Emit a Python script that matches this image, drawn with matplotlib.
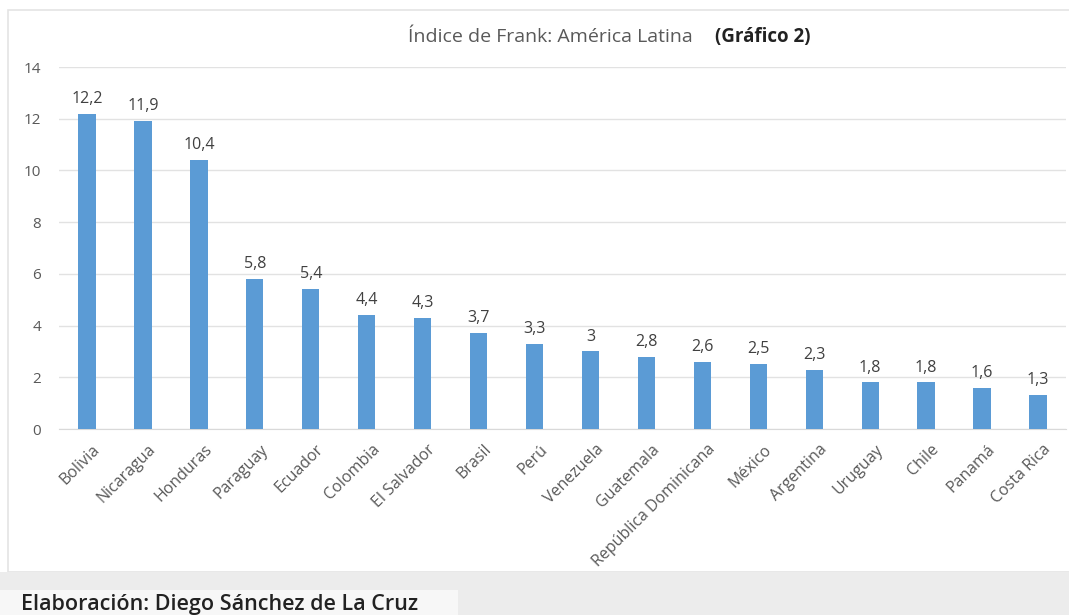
import matplotlib.pyplot as plt
from matplotlib.patches import Rectangle
from matplotlib.transforms import ScaledTranslation
import numpy as np

plt.rcParams['font.family'] = ['Open Sans', 'DejaVu Sans']

paises = ["Bolivia", "Nicaragua", "Honduras", "Paraguay", "Ecuador", "Colombia",
          "El Salvador", "Brasil", "Perú", "Venezuela", "Guatemala",
          "República Dominicana", "México", "Argentina", "Uruguay", "Chile",
          "Panamá", "Costa Rica"]
indice = [12.2, 11.9, 10.4, 5.8, 5.4, 4.4, 4.3, 3.7, 3.3, 3.0, 2.8, 2.6, 2.5,
          2.3, 1.8, 1.8, 1.6, 1.3]
etiquetas = ["12,2", "11,9", "10,4", "5,8", "5,4", "4,4", "4,3", "3,7", "3,3",
             "3", "2,8", "2,6", "2,5", "2,3", "1,8", "1,8", "1,6", "1,3"]

fig = plt.figure(figsize=(10.69, 6.15), dpi=100)

# marco del grafico y banda inferior
fig.patches.append(Rectangle((0.0075, 0.07), 1.0, 0.914, transform=fig.transFigure,
                             facecolor='white', edgecolor='#e4e4e4', lw=1.2, zorder=-3))
fig.patches.append(Rectangle((0.0, 0.0), 1.0, 0.07, transform=fig.transFigure,
                             facecolor='#ececec', edgecolor='none', zorder=-3))
fig.patches.append(Rectangle((0.0, 0.0), 0.428, 0.04, transform=fig.transFigure,
                             facecolor='#f7f7f7', edgecolor='none', zorder=-2))

ax = fig.add_axes([0.0552, 0.3024, 0.942, 0.5886])
ax.set_facecolor('none')
x = np.arange(len(paises))
ax.bar(x, indice, width=0.31, color='#5b9bd5', zorder=3)
for xi, v, t in zip(x, indice, etiquetas):
    ax.annotate(t, (xi, v), xytext=(0, 5), textcoords='offset points',
                ha='center', va='bottom', fontsize=11.5, color='#404040')

ax.set_xlim(-0.5, len(paises) - 0.5)
ax.set_ylim(0, 14)
ax.set_yticks(range(0, 15, 2))
ax.yaxis.grid(True, color='#e2e2e2', lw=1, zorder=0)
ax.set_axisbelow(True)
ax.tick_params(axis='both', length=0, colors='#595959')
ax.tick_params(axis='y', pad=13, labelsize=11)
ax.tick_params(axis='x', pad=9, labelsize=11.5)
ax.set_xticks(x)
ax.set_xticklabels(paises, rotation=45, ha='right', rotation_mode='anchor')
desplaza = ScaledTranslation(5 / 100, 0, fig.dpi_scale_trans)
for lab in ax.get_xticklabels():
    lab.set_transform(lab.get_transform() + desplaza)
for s in ['top', 'right', 'left']:
    ax.spines[s].set_visible(False)
ax.spines['bottom'].set_color('#d9d9d9')

fig.text(0.6485, 0.94, "Índice de Frank: América Latina", ha='right', va='center',
         fontsize=14, color='#595959')
fig.text(0.669, 0.94, "(Gráfico 2)", ha='left', va='center', fontsize=13.5,
         fontweight='bold', color='#222222')
fig.text(0.02, 0.017, "Elaboración: Diego Sánchez de La Cruz", ha='left', va='center',
         fontsize=15.5, fontweight='semibold', color='#222222')

fig.savefig("out.png", dpi=100)
